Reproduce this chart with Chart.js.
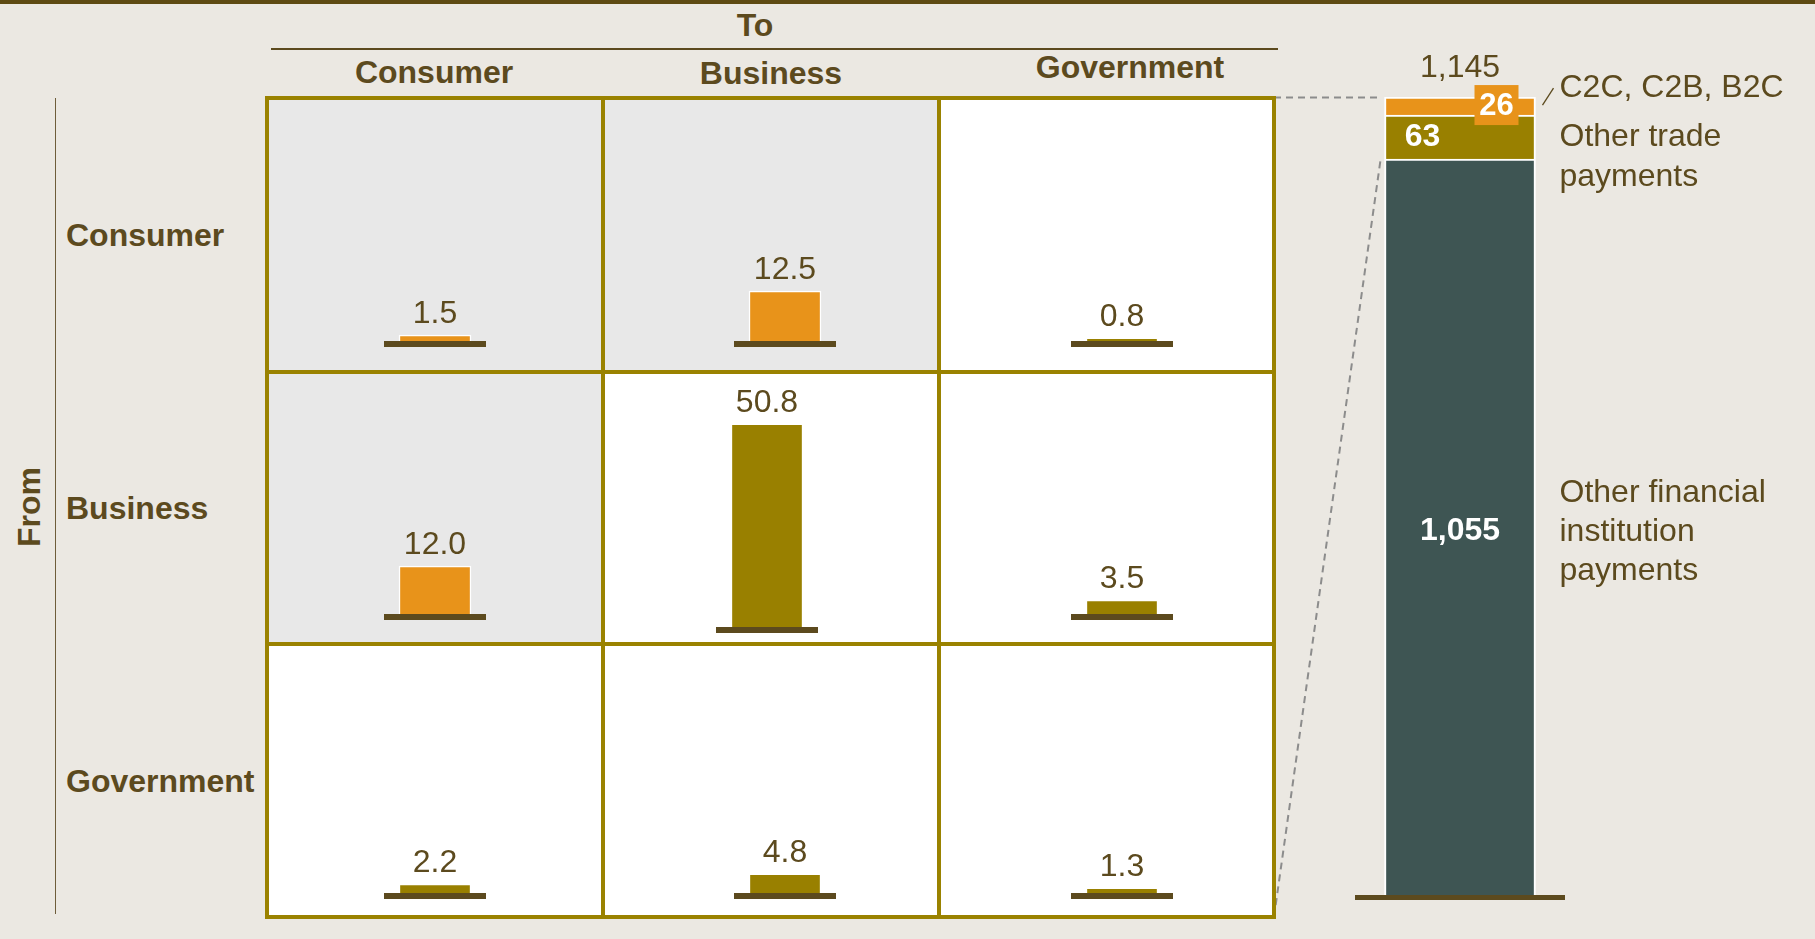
<!DOCTYPE html>
<html>
<head>
<meta charset="utf-8">
<title>Payment flows by payer and payee</title>
<script src="https://cdn.jsdelivr.net/npm/chart.js@4.4.1/dist/chart.umd.min.js"></script>
<style>
  html, body { margin: 0; padding: 0; }
  body {
    width: 1815px; height: 939px; position: relative; overflow: hidden;
    background: #ebe8e2;
    font-family: "Liberation Sans", Arial, sans-serif;
    color: #5c4a1e;
  }
  .box { position: absolute; }
  .txt { position: absolute; white-space: nowrap; font-size: 32px; line-height: 1; z-index: 3; }
  .ctr { transform: translate(-50%, -50%); }
  .lft { transform: translate(0, -50%); }
  .bold { font-weight: bold; }
  canvas { position: absolute; z-index: 1; }
</style>
</head>
<body>
<script>
// ---- data -------------------------------------------------------------
const sectors = ['Consumer', 'Business', 'Government'];      // payers (rows) and payees (columns)
const fromConsumer   = [1.5, 12.5, 0.8];
const fromBusiness   = [12.0, 50.8, 3.5];
const fromGovernment = [2.2, 4.8, 1.3];
const flowRows = [fromConsumer, fromBusiness, fromGovernment];

const segmentNames  = [['Other financial', 'institution', 'payments'], ['Other trade', 'payments'], ['C2C, C2B, B2C']];
const segmentValues = [1055, 63, 26];
const grandTotal = 1145;

// ---- palette ----------------------------------------------------------
const INK = '#5c4a1e';
const ORANGE = '#e8931a';
const OLIVE = '#998000';
const TEAL = '#3e5553';
const RULE_COLOR = '#9a8200';
const SHADE = '#e8e8e8';
const FONT = '"Liberation Sans", Arial, sans-serif';

// consumer-related flows (C2C, C2B, B2C) are highlighted
function isConsumerFlow(r, c) {
  return r < 2 && c < 2 && !(r === 1 && c === 1);
}
function fmtNum(v) { return v.toLocaleString('en-US'); }

// ---- layout -----------------------------------------------------------
const GRID_X = [265, 601, 937, 1272];
const GRID_Y = [96, 370, 642, 915];
const RULE = 4;
const BAR_CX = [[435, 785, 1122], [435, 767, 1122], [435, 785, 1122]];
const STRIP_TOP = [[341, 341, 341], [614, 627, 614], [893, 893, 893]];
const HEADER_POS = [[434, 72], [771, 73], [1130, 67]];
const PX_PER_UNIT = 4.0;
const PLOT_H = 250;

function el(cls, style, text) {
  const d = document.createElement('div');
  d.className = cls;
  Object.assign(d.style, style);
  if (text !== undefined) d.textContent = text;
  document.body.appendChild(d);
  return d;
}

// top band
el('box', { left: '0px', top: '0px', width: '1815px', height: '4px', background: '#5e4a12' });

// "To" heading and its rule
el('txt ctr bold', { left: '755px', top: '25px' }, 'To');
el('box', { left: '271px', top: '48px', width: '1007px', height: '2px', background: INK });
sectors.forEach((s, i) => {
  el('txt ctr bold', { left: HEADER_POS[i][0] + 'px', top: HEADER_POS[i][1] + 'px' }, s);
});

// "From" heading and its rule
el('txt ctr bold', { left: '28.5px', top: '507px', transform: 'translate(-50%,-50%) rotate(-90deg)' }, 'From');
el('box', { left: '54.5px', top: '98px', width: '1.5px', height: '816px', background: '#6e5d3a' });
sectors.forEach((s, i) => {
  const cy = (GRID_Y[i] + GRID_Y[i + 1] + RULE) / 2;
  el('txt lft bold', { left: '66px', top: cy + 'px' }, s);
});

// cell backgrounds
for (let r = 0; r < 3; r++) {
  for (let c = 0; c < 3; c++) {
    el('box', {
      left: GRID_X[c] + 'px', top: GRID_Y[r] + 'px',
      width: (GRID_X[c + 1] - GRID_X[c]) + 'px', height: (GRID_Y[r + 1] - GRID_Y[r]) + 'px',
      background: isConsumerFlow(r, c) ? SHADE : '#ffffff', zIndex: 0
    });
  }
}
// grid rules
GRID_X.forEach(x => el('box', { left: x + 'px', top: GRID_Y[0] + 'px', width: RULE + 'px', height: (GRID_Y[3] - GRID_Y[0] + RULE) + 'px', background: RULE_COLOR, zIndex: 2 }));
GRID_Y.forEach(y => el('box', { left: GRID_X[0] + 'px', top: y + 'px', width: (GRID_X[3] - GRID_X[0] + RULE) + 'px', height: RULE + 'px', background: RULE_COLOR, zIndex: 2 }));

// ---- plugins ----------------------------------------------------------
const baselinePlugin = {
  id: 'baseline',
  afterDatasetsDraw(chart, args, opts) {
    const a = chart.chartArea, ctx = chart.ctx;
    ctx.save();
    ctx.fillStyle = INK;
    ctx.fillRect(a.left, a.bottom, a.right - a.left, opts.thickness || 6);
    ctx.restore();
  }
};

const valueLabelPlugin = {
  id: 'valueLabel',
  afterDatasetsDraw(chart) {
    const ctx = chart.ctx;
    const ds = chart.data.datasets[0];
    const meta = chart.getDatasetMeta(0);
    ctx.save();
    ctx.font = '32px ' + FONT;
    ctx.fillStyle = INK;
    ctx.textAlign = 'center';
    ctx.textBaseline = 'middle';
    meta.data.forEach((bar, i) => {
      ctx.fillText(ds.data[i].toFixed(1), bar.x, bar.y - 21);
    });
    ctx.restore();
  }
};

// ---- one small bar chart per cell ------------------------------------
function cellChart(r, c) {
  const value = flowRows[r][c];
  const cv = document.createElement('canvas');
  const w = 102, h = PLOT_H + 6;
  cv.width = w; cv.height = h;
  cv.style.left = (BAR_CX[r][c] - w / 2) + 'px';
  cv.style.top = (STRIP_TOP[r][c] - PLOT_H) + 'px';
  document.body.appendChild(cv);
  new Chart(cv, {
    type: 'bar',
    data: {
      labels: [sectors[r] + ' to ' + sectors[c]],
      datasets: [{
        data: [value],
        backgroundColor: isConsumerFlow(r, c) ? ORANGE : OLIVE,
        borderColor: '#ffffff',
        borderWidth: 1.5,
        barThickness: 72
      }]
    },
    options: {
      responsive: false, animation: false, devicePixelRatio: 1,
      layout: { padding: { top: 0, bottom: 6, left: 0, right: 0 } },
      scales: {
        x: { display: false },
        y: { display: false, min: 0, max: PLOT_H / PX_PER_UNIT }
      },
      plugins: { legend: { display: false }, tooltip: { enabled: false }, baseline: { thickness: 6 } }
    },
    plugins: [baselinePlugin, valueLabelPlugin]
  });
}
for (let r = 0; r < 3; r++) for (let c = 0; c < 3; c++) cellChart(r, c);

// ---- stacked total bar ------------------------------------------------
const totalPlugin = {
  id: 'totalLabels',
  afterDatasetsDraw(chart) {
    const ctx = chart.ctx;
    const bars = chart.data.datasets.map((d, i) => chart.getDatasetMeta(i).data[0]);
    const teal = bars[0], olive = bars[1], orange = bars[2];
    const left = teal.x - teal.width / 2, right = teal.x + teal.width / 2;
    const mid = b => (b.y + b.base) / 2;
    const canvasLeft = parseFloat(chart.canvas.style.left);
    ctx.save();

    // dashed connectors from the matrix corners
    ctx.strokeStyle = '#8c8c8c';
    ctx.lineWidth = 2;
    ctx.setLineDash([7, 5]);
    ctx.beginPath();
    ctx.moveTo(GRID_X[3] + 2 - canvasLeft, GRID_Y[0] + 1.5);
    ctx.lineTo(left - 4, orange.y + 0.5);
    ctx.moveTo(GRID_X[3] + 2 - canvasLeft, GRID_Y[3] + 2);
    ctx.lineTo(left - 4, olive.base + 1);
    ctx.stroke();
    ctx.setLineDash([]);

    // leader for the top segment
    ctx.strokeStyle = INK;
    ctx.lineWidth = 1.3;
    ctx.beginPath();
    ctx.moveTo(right + 7, mid(orange) - 1);
    ctx.lineTo(right + 18, mid(orange) - 18);
    ctx.stroke();

    // value boxes and labels inside the bar
    ctx.textBaseline = 'middle';
    ctx.textAlign = 'center';
    ctx.fillStyle = ORANGE;
    ctx.fillRect(right - 61, mid(orange) - 21, 44, 40);
    ctx.fillStyle = '#ffffff';
    ctx.font = 'bold 31px ' + FONT;
    ctx.fillText(fmtNum(segmentValues[2]), right - 39, mid(orange));
    ctx.font = 'bold 32px ' + FONT;
    ctx.fillText(fmtNum(segmentValues[1]), left + 38, mid(olive));
    ctx.fillText(fmtNum(segmentValues[0]), teal.x, mid(teal) + 4);

    // total above the bar
    ctx.fillStyle = INK;
    ctx.font = '32px ' + FONT;
    ctx.fillText(fmtNum(grandTotal), teal.x, orange.y - 29);

    // segment names to the right
    ctx.textAlign = 'left';
    const tx = right + 24;
    ctx.fillText(segmentNames[2][0], tx, mid(orange) - 18);
    segmentNames[1].forEach((s, i) => ctx.fillText(s, tx, mid(olive) + i * 40));
    const n = segmentNames[0].length;
    segmentNames[0].forEach((s, i) => ctx.fillText(s, tx, mid(teal) + 5 + (i - (n - 1) / 2) * 39));
    ctx.restore();
  }
};

(function totalChart() {
  const cv = document.createElement('canvas');
  const L = 1260;
  cv.width = 1815 - L; cv.height = 939;
  cv.style.left = L + 'px';
  cv.style.top = '0px';
  document.body.appendChild(cv);
  const colors = [TEAL, OLIVE, ORANGE];
  new Chart(cv, {
    type: 'bar',
    data: {
      labels: ['All payments'],
      datasets: segmentValues.map((v, i) => ({
        label: segmentNames[i].join(' '),
        data: [v],
        backgroundColor: colors[i],
        borderColor: '#ffffff',
        borderWidth: 2,
        barThickness: 151
      }))
    },
    options: {
      responsive: false, animation: false, devicePixelRatio: 1,
      layout: { padding: { top: 97, bottom: 44, left: 95, right: 250 } },
      scales: {
        x: { display: false, stacked: true },
        y: { display: false, stacked: true, min: 0, max: segmentValues.reduce((a, b) => a + b, 0) }
      },
      plugins: { legend: { display: false }, tooltip: { enabled: false }, baseline: { thickness: 5 } }
    },
    plugins: [baselinePlugin, totalPlugin]
  });
})();
</script>
</body>
</html>
